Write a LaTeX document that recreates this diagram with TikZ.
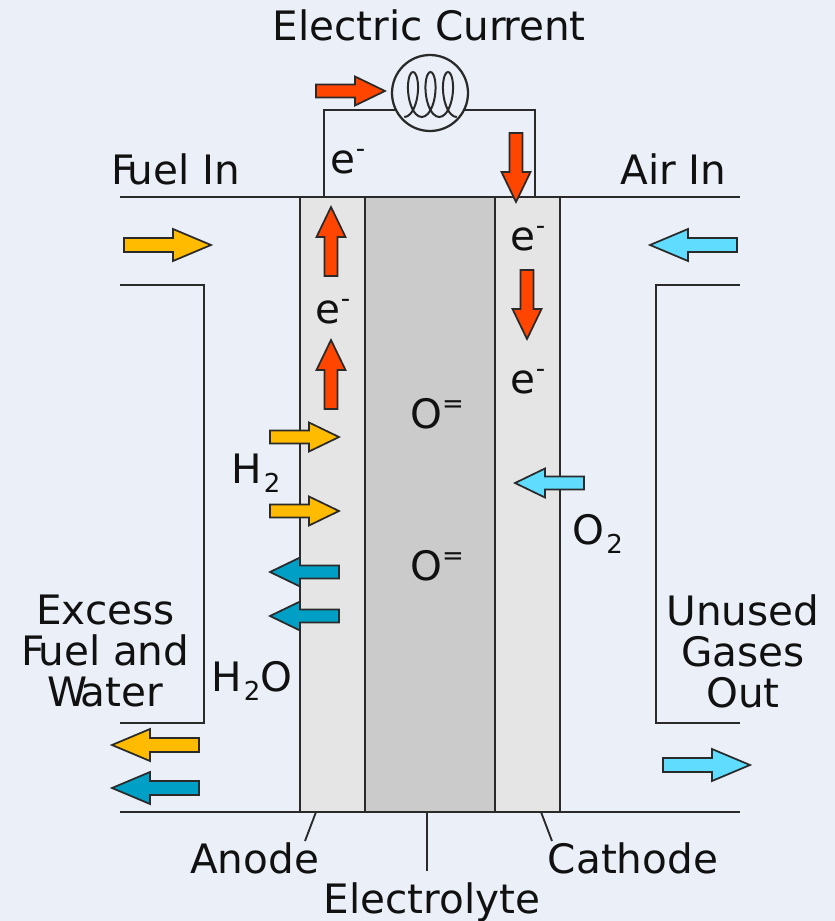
\documentclass[tikz,border=0pt]{standalone}
\usepackage{fontspec}
\setmainfont{DejaVu Sans}
\definecolor{bgc}{HTML}{EBF0F8}
\definecolor{redc}{HTML}{FF4500}
\definecolor{yelc}{HTML}{FFBB00}
\definecolor{cyac}{HTML}{5FDCFF}
\definecolor{bluc}{HTML}{00A0C6}
\definecolor{gra}{HTML}{E5E5E5}
\definecolor{grb}{HTML}{CBCBCB}
\definecolor{ink}{HTML}{111111}
\definecolor{edge}{HTML}{2A2A2A}
\newcommand{\flow}[6]{% x y angle length head colour
  \begin{scope}[shift={(#1,#2)},rotate=#3]
    \draw[flowline,fill=#6] (0,-\fsh) -- ({#4-#5},-\fsh) -- ({#4-#5},-\fhd) -- (#4,0) -- ({#4-#5},\fhd) -- ({#4-#5},\fsh) -- (0,\fsh) -- cycle;
  \end{scope}}
\newcommand{\shortflow}[4]{\def\fsh{6.5}\def\fhd{14.5}\flow{#1}{#2}{#3}{69}{30}{#4}}
\newcommand{\longflow}[4]{\def\fsh{7}\def\fhd{16}\flow{#1}{#2}{#3}{87}{38}{#4}}
\newcommand{\supr}[1]{\raisebox{12pt}{\fontsize{19.5}{20}\selectfont #1}}
\newcommand{\subr}[1]{\kern.04em\raisebox{-6.75pt}{\fontsize{19.5}{20}\selectfont #1}}
\tikzset{
  wire/.style={draw=edge,line width=1.7pt,line join=miter},
  flowline/.style={draw=edge,line width=1.3pt,line join=miter},
  leader/.style={draw=edge,line width=1.4pt},
  label/.style={inner sep=0pt,outer sep=0pt,anchor=base,font=\fontsize{30.4}{31}\selectfont,text=ink},
  blocklabel/.style={inner sep=0pt,outer sep=0pt,anchor=center,align=center,font=\fontsize{30.4}{30.75}\selectfont,text=ink},
}
\begin{document}
\begin{tikzpicture}[x=0.75pt,y=-0.75pt]
\useasboundingbox (0,0) rectangle (835,921);
\fill[bgc] (0,0) rectangle (835,921);
% cell
\fill[gra] (300,197) rectangle (365,812);
\fill[grb] (365,197) rectangle (495,812);
\fill[gra] (495,197) rectangle (560,812);
\foreach \cx in {300,365,495,560} \draw[wire] (\cx,197) -- (\cx,812);
\draw[wire] (120,197) -- (740,197);
\draw[wire] (120,812) -- (740,812);
% ducts
\draw[wire] (120,285) -- (204,285) -- (204,723) -- (120,723);
\draw[wire] (740,285) -- (656,285) -- (656,723) -- (740,723);
% lamp and circuit
\node[circle,draw=edge,line width=1.7pt,minimum size=57pt,inner sep=0pt] (lamp) at (430,93) {};
\coordinate (ancL) at (324,197);
\coordinate (ancR) at (535,197);
\coordinate (lampL) at (396,110);
\coordinate (lampR) at (464,110);
\draw[wire] (ancL) |- (lampL);
\draw[wire] (ancR) |- (lampR);
\draw[edge,line width=1.5pt] plot[smooth,domain=-180:900,samples=73] ({413+\x/360*17.5-9*sin(\x)},{94.5-22.5*cos(\x)});
% leaders
\coordinate (lA) at (316,812); \coordinate (lAe) at (305,841);
\coordinate (lE) at (427,812); \coordinate (lEe) at (427,871);
\coordinate (lC) at (541,812); \coordinate (lCe) at (552,841);
\draw[leader] (lA) -- (lAe);
\draw[leader] (lE) -- (lEe);
\draw[leader] (lC) -- (lCe);
% arrows
\longflow{124}{245}{0}{yelc}
\longflow{737}{245}{180}{cyac}
\shortflow{316}{91}{0}{redc}
\shortflow{516}{133}{-90}{redc}
\shortflow{331}{276}{90}{redc}
\shortflow{527}{270}{-90}{redc}
\shortflow{331}{409}{90}{redc}
\shortflow{270}{437}{0}{yelc}
\shortflow{270}{511}{0}{yelc}
\shortflow{339}{572}{180}{bluc}
\shortflow{339}{616}{180}{bluc}
\shortflow{584}{483}{180}{cyac}
\longflow{199}{745}{180}{yelc}
\longflow{199}{788}{180}{bluc}
\longflow{663}{765}{0}{cyac}
% labels
\node[label] (t1) at (429,40) {Electric Cur\kern-.07em rent};
\node[label] (t2) at (176,184) {F\kern-.18em uel In};
\node[label] (t3) at (673.5,184) {Air In};
\node[label] (e1) at (348,173) {e\supr{-}};
\node[label] (e2) at (528,250) {e\supr{-}};
\node[label] (e3) at (333,323) {e\supr{-}};
\node[label] (e4) at (528,393) {e\supr{-}};
\node[label] (o1) at (437,428) {O\supr{=}};
\node[label] (o2) at (437,580) {O\supr{=}};
\node[label] (h2) at (256,483) {H\subr{2}};
\node[label] (hw) at (252,691) {H\subr{2}O};
\node[label] (o3) at (598,544) {O\subr{2}};
\node[blocklabel] (ex) at (105.5,651) {Excess\\F\kern-.16em uel and\\W\kern-.18em ater};
\node[blocklabel] (un) at (743,651) {Unused\\Gases\\Out};
\node[label] (an) at (254.5,873) {Anode};
\node[label] (ca) at (633,873) {Cathode};
\node[label] (el) at (432,913) {Electrolyte};
\end{tikzpicture}
\end{document}
